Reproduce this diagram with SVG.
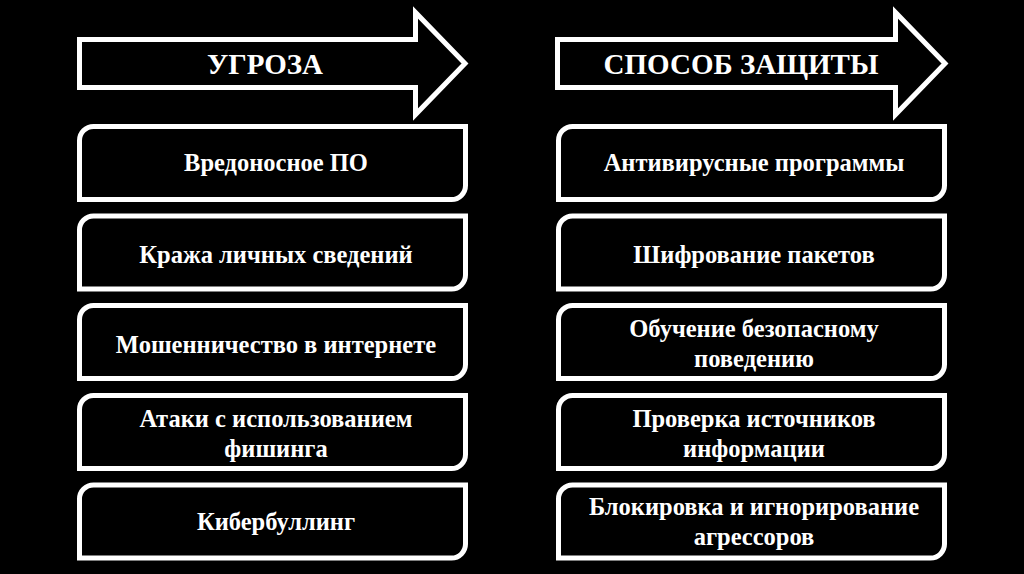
<svg xmlns="http://www.w3.org/2000/svg" width="1024" height="574" viewBox="0 0 1024 574">
<defs>
<style>
.shape{fill:#000;stroke:#fff;stroke-width:5;stroke-linejoin:miter}
.t{font-family:"Liberation Serif","Times New Roman",serif;font-weight:bold;font-size:24.5px;fill:#fff;text-anchor:middle}
.h{font-family:"Liberation Serif","Times New Roman",serif;font-weight:bold;font-size:29px;fill:#fff;text-anchor:middle}
</style>
<path id="box" d="M14,0 H386 V59 A14,14 0 0 1 372,73 H0 V14 A14,14 0 0 1 14,0 Z"/>
</defs>
<rect width="1024" height="574" fill="#000"/>
<g id="header-threat">
<path class="shape" d="M79.5,39.5 H415.5 V12.5 L465,63.5 L415.5,114.5 V87.5 H79.5 Z"/>
<text class="h" x="265" y="74">УГРОЗА</text>
</g>
<g id="header-defense">
<path class="shape" d="M557.5,39.5 H895.5 V12.5 L945,63.5 L895.5,114.5 V87.5 H557.5 Z"/>
<text class="h" x="741" y="74">СПОСОБ ЗАЩИТЫ</text>
</g>
<g id="threat-1"><use href="#box" class="shape" x="79.5" y="126.5"/><text class="t" x="276" y="171">Вредоносное ПО</text></g>
<g id="threat-2"><use href="#box" class="shape" x="79.5" y="216"/><text class="t" x="276" y="263">Кража личных сведений</text></g>
<g id="threat-3"><use href="#box" class="shape" x="79.5" y="305.5"/><text class="t" x="276" y="353">Мошенничество в интернете</text></g>
<g id="threat-4"><use href="#box" class="shape" x="79.5" y="395.5"/><text class="t" x="276" y="427">Атаки с использованием</text><text class="t" x="276" y="457">фишинга</text></g>
<g id="threat-5"><use href="#box" class="shape" x="79.5" y="485"/><text class="t" x="276" y="530">Кибербуллинг</text></g>
<g id="defense-1"><use href="#box" class="shape" x="558.5" y="126.5"/><text class="t" x="754" y="171">Антивирусные программы</text></g>
<g id="defense-2"><use href="#box" class="shape" x="558.5" y="216"/><text class="t" x="754" y="263">Шифрование пакетов</text></g>
<g id="defense-3"><use href="#box" class="shape" x="558.5" y="305.5"/><text class="t" x="754" y="337">Обучение безопасному</text><text class="t" x="754" y="367">поведению</text></g>
<g id="defense-4"><use href="#box" class="shape" x="558.5" y="395.5"/><text class="t" x="754" y="427">Проверка источников</text><text class="t" x="754" y="457">информации</text></g>
<g id="defense-5"><use href="#box" class="shape" x="558.5" y="485"/><text class="t" x="754" y="515">Блокировка и игнорирование</text><text class="t" x="754" y="545">агрессоров</text></g>
<g id="connectors"></g>
</svg>
